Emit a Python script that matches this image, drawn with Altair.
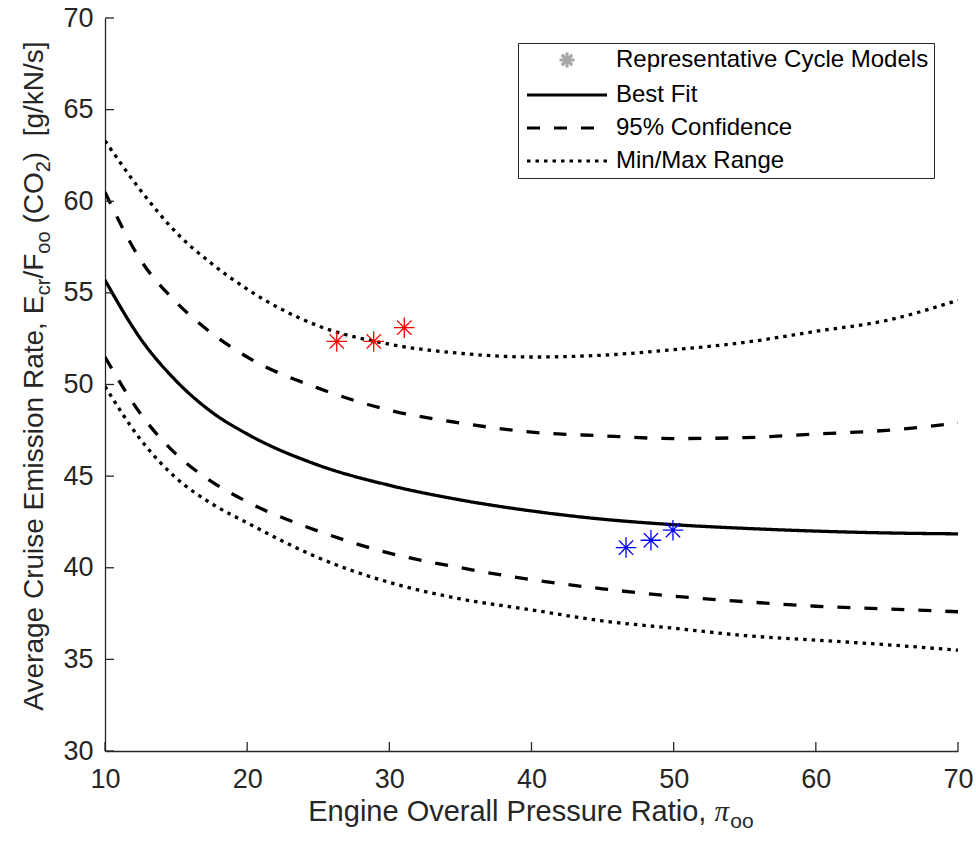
import altair as alt
import pandas as pd

# ---------------- data ----------------
x_vals = [10, 12.5, 15, 17.5, 20, 25, 30, 35, 40, 45, 50, 55, 60, 65, 70]
best_fit = [55.7, 52.5, 50.2, 48.5, 47.3, 45.6, 44.5, 43.7, 43.1, 42.65, 42.35, 42.15, 42.0, 41.9, 41.85]
ci_upper = [60.5, 56.8, 54.5, 52.8, 51.5, 49.8, 48.6, 47.9, 47.4, 47.2, 47.05, 47.1, 47.3, 47.5, 47.9]
ci_lower = [51.5, 48.4, 46.2, 44.7, 43.6, 42.0, 40.8, 40.0, 39.35, 38.85, 38.45, 38.15, 37.9, 37.75, 37.6]
range_max = [63.3, 60.6, 58.3, 56.6, 55.2, 53.2, 52.2, 51.7, 51.5, 51.6, 51.9, 52.3, 52.9, 53.5, 54.6]
range_min = [49.9, 47.0, 44.9, 43.5, 42.45, 40.55, 39.2, 38.3, 37.7, 37.1, 36.7, 36.3, 36.05, 35.8, 35.5]

red_x = [26.3, 28.9, 31.05]
red_y = [52.35, 52.35, 53.1]
blue_x = [46.65, 48.4, 49.95]
blue_y = [41.1, 41.5, 42.05]

x_ticks = [10, 20, 30, 40, 50, 60, 70]
y_ticks = [30, 35, 40, 45, 50, 55, 60, 65, 70]

legend_names = ["Representative Cycle Models", "Best Fit", "95% Confidence", "Min/Max Range"]

# ---------------- styling ----------------
FONT = "Liberation Sans, Arial, Helvetica, sans-serif"
AX = "#262626"
W, H = 853, 733
STAR = "M-1,0L1,0M0,-1L0,1M-0.7,-0.7L0.7,0.7M-0.7,0.7L0.7,-0.7"
STAR_LEG = "M-1.5,0L1.5,0M0,-1.5L0,1.5M-1.05,-1.05L1.05,1.05M-1.05,1.05L1.05,-1.05"
LINE_LEG = "M-8,0L8,0"

rows = []
for name, curve, ys in [
    ("Best Fit", "fit", best_fit),
    ("95% Confidence", "ci_hi", ci_upper),
    ("95% Confidence", "ci_lo", ci_lower),
    ("Min/Max Range", "max", range_max),
    ("Min/Max Range", "min", range_min),
]:
    for xv, yv in zip(x_vals, ys):
        rows.append({"x": xv, "y": yv, "series": name, "curve": curve})
lines_df = pd.DataFrame(rows)

pts_df = pd.DataFrame({
    "x": red_x + blue_x,
    "y": red_y + blue_y,
    "color": ["#ff0000"] * len(red_x) + ["#0000ff"] * len(blue_x),
    "series": [legend_names[0]] * (len(red_x) + len(blue_x)),
})

xscale = alt.Scale(domain=[10, 70], nice=False, zero=False)
yscale = alt.Scale(domain=[30, 70], nice=False, zero=False)
axis_common = dict(title=None, grid=False, ticks=False, labelFlush=False, labelOverlap=False,
                   domainColor=AX, domainWidth=1.3, labelColor=AX, labelFont=FONT, labelFontSize=27)
xaxis = alt.Axis(values=x_ticks, labelPadding=15, **axis_common)
yaxis = alt.Axis(values=y_ticks, labelPadding=12, **axis_common)
X = alt.X("x:Q", scale=xscale, axis=xaxis)
Y = alt.Y("y:Q", scale=yscale, axis=yaxis)

dash_scale = alt.Scale(domain=legend_names, range=[[1, 0], [1, 0], [13, 14], [3.5, 5]])
rep = legend_names[0]
legend = alt.Legend(
    title=None, orient="none", legendX=413, legendY=25,
    padding=5, rowPadding=9, fillColor="white", strokeColor=AX,
    labelFont=FONT, labelFontSize=24, labelColor="black", labelLimit=0,
    labelOffset=37, symbolOffset=32, symbolSize=100, symbolStrokeWidth=3.2, symbolOpacity=1,
    symbolType=alt.ExprRef(expr=f"datum.value === '{rep}' ? '{STAR_LEG}' : '{LINE_LEG}'"),
    symbolStrokeColor=alt.ExprRef(expr=f"datum.value === '{rep}' ? '#a8a8a8' : '#000000'"),
)

lines = alt.Chart(lines_df).mark_line(strokeWidth=3.3, interpolate="monotone", clip=True, color="black").encode(
    x=X, y=Y,
    strokeDash=alt.StrokeDash("series:N", scale=dash_scale, legend=legend),
    detail="curve:N",
)

points = alt.Chart(pts_df).mark_point(shape=STAR, size=420, strokeWidth=1.3, filled=False, opacity=1).encode(
    x=X, y=Y,
    stroke=alt.Stroke("color:N", scale=None),
    strokeDash=alt.StrokeDash("series:N", scale=dash_scale, legend=legend),
)

# inward ticks
xt = alt.Chart(pd.DataFrame({"x": x_ticks})).mark_rule(color=AX, strokeWidth=1.3).encode(
    x=X, y=alt.value(H), y2=alt.value(H - 9))
yt = alt.Chart(pd.DataFrame({"y": y_ticks})).mark_rule(color=AX, strokeWidth=1.3).encode(
    y=Y, x=alt.value(0), x2=alt.value(9))

# ---------------- axis titles with subscripts ----------------
CW = {' ': 278, '(': 333, ')': 333, '[': 278, ']': 278, '/': 278, ',': 278, '2': 556,
      'A': 667, 'C': 722, 'E': 667, 'F': 611, 'N': 722, 'O': 778, 'P': 667, 'R': 722,
      'a': 556, 'c': 500, 'e': 556, 'g': 556, 'i': 222, 'k': 500, 'l': 222, 'm': 833,
      'n': 556, 'o': 556, 'r': 333, 's': 500, 't': 278, 'u': 556, 'v': 500}


def tw(s, size):
    return sum(CW.get(c, 556) for c in s) * size / 1000.0


def text_layer(s, x, y, size, angle=0, font=FONT, style="normal"):
    return alt.Chart(pd.DataFrame({"t": [s]})).mark_text(
        align="left", baseline="alphabetic", font=font, fontSize=size, angle=angle,
        color=AX, fontStyle=style,
    ).encode(text="t:N", x=alt.value(x), y=alt.value(y))


MAIN, SUB = 28, 20
title_layers = []

# y title: (text, is_sub, spaces before)
y_pieces = [("Average Cruise Emission Rate, E", False, 0), ("cr", True, 0), ("/F", False, 0),
            ("oo", True, 0), ("(CO", False, 1), ("2", True, 0), (")", False, 0), ("[g/kN/s]", False, 2)]
total = 0
for s, sub, sp in y_pieces:
    total += sp * tw(' ', MAIN) + tw(s, SUB if sub else MAIN)
ypos = (376 - 18) + total / 2
base_x = 43 - 105
for s, sub, sp in y_pieces:
    ypos -= sp * tw(' ', MAIN)
    size = SUB if sub else MAIN
    title_layers.append(text_layer(s, base_x + (7 if sub else 0), ypos, size, angle=270))
    ypos -= tw(s, size)

# x title
XM, XS = 29, 21
main_txt = "Engine Overall Pressure Ratio,"
pi_w = 0.55 * XM
total = tw(main_txt, XM) + tw(' ', XM) + pi_w + tw("oo", XS)
xpos = (531 - 105) - total / 2
base_y = 821 - 18
title_layers.append(text_layer(main_txt, xpos, base_y, XM))
xpos += tw(main_txt, XM) + tw(' ', XM)
title_layers.append(text_layer("\u03c0", xpos, base_y, XM, font="Liberation Serif, DejaVu Serif, serif", style="italic"))
xpos += pi_w
title_layers.append(text_layer("oo", xpos, base_y + 7, XS))

chart = alt.layer(lines, points, xt, yt, *title_layers).properties(
    width=W, height=H,
    padding={"left": 105, "top": 18, "right": 18, "bottom": 93},
    autosize=alt.AutoSizeParams(type="none"),
    background="white",
).configure_view(stroke=None)

chart.save("out.html", embed_options={"renderer": "svg", "actions": False})
